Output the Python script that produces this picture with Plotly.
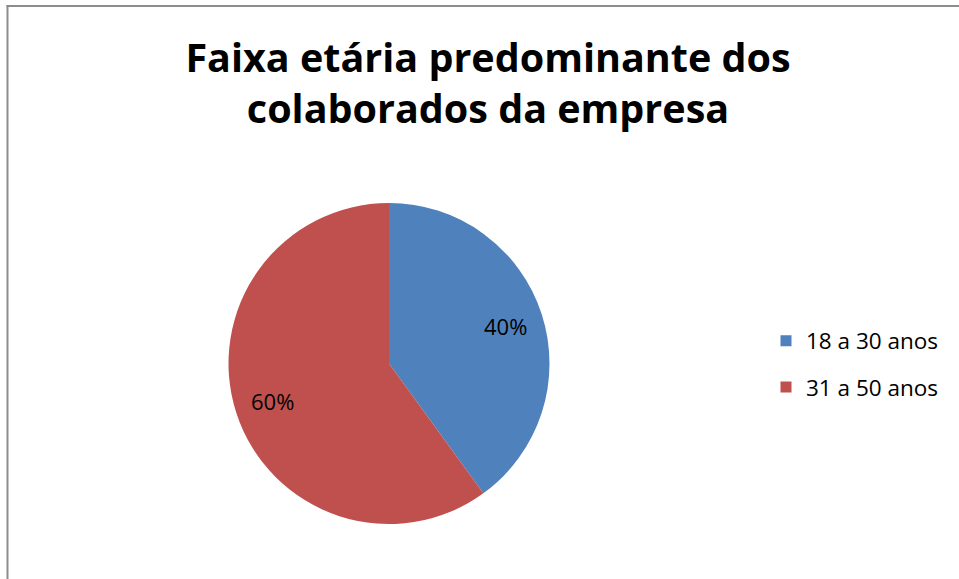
import math
import plotly.graph_objects as go

title_lines = ["Faixa etária predominante dos", "colaborados da empresa"]
labels = ["18 a 30 anos", "31 a 50 anos"]
values = [40, 60]
colors = ["#4F81BD", "#C0504D"]

W, H = 959, 579
# pie placement (pixels)
PX0, PX1, PY0, PY1 = 228, 550, 203, 524
CX, CY = (PX0 + PX1) / 2, (PY0 + PY1) / 2
R = (PX1 - PX0) / 2
LABEL_R = 0.76

fig = go.Figure()
fig.add_trace(go.Pie(
    labels=labels,
    values=values,
    sort=False,
    direction="clockwise",
    rotation=0,
    marker=dict(colors=colors, line=dict(width=0)),
    textinfo="none",
    showlegend=False,
    domain=dict(x=[PX0 / W, PX1 / W], y=[1 - PY1 / H, 1 - PY0 / H]),
    hoverinfo="label+percent",
))

# legend entries
for lab, col in zip(labels, colors):
    fig.add_trace(go.Scatter(
        x=[None], y=[None], mode="markers", name=lab, legendgroup=lab,
        marker=dict(symbol="square", size=11, color=col),
        showlegend=True,
    ))

# percentage labels placed at mid-angle of each slice
total = sum(values)
annotations = []
start = 0.0
for v in values:
    frac = v / total
    mid = (start + frac / 2) * 2 * math.pi
    start += frac
    px = CX + LABEL_R * R * math.sin(mid)
    py = CY - LABEL_R * R * math.cos(mid)
    annotations.append(dict(
        x=px / W, y=1 - py / H, xref="paper", yref="paper",
        text=f"{round(frac * 100)}%", showarrow=False,
        font=dict(family="Open Sans", size=22, color="#000000"),
        xanchor="center", yanchor="middle",
    ))

fig.update_layout(
    width=W, height=H,
    margin=dict(l=0, r=0, t=0, b=0),
    paper_bgcolor="#ffffff",
    plot_bgcolor="#ffffff",
    font=dict(family="Open Sans", color="#000000"),
    xaxis=dict(visible=False),
    yaxis=dict(visible=False),
    title=dict(
        text="<b>" + "<br>".join(title_lines) + "</b>",
        x=488 / W, xanchor="center",
        y=1 - 72 / H, yanchor="top", yref="container",
        font=dict(family="Open Sans", size=39.5, color="#000000"),
    ),
    legend=dict(
        x=766 / W, xanchor="left",
        y=1 - 364 / H, yanchor="middle",
        font=dict(family="Open Sans", size=22.5, color="#000000"),
        itemsizing="trace",
        tracegroupgap=14,
        bgcolor="rgba(0,0,0,0)",
    ),
    annotations=annotations,
    shapes=[
        dict(type="line", xref="paper", yref="paper",
             x0=7.5 / W, x1=7.5 / W, y0=0, y1=1 - 5 / H,
             line=dict(color="#8c8c8c", width=2)),
        dict(type="line", xref="paper", yref="paper",
             x0=6.5 / W, x1=1, y0=1 - 6 / H, y1=1 - 6 / H,
             line=dict(color="#8c8c8c", width=2)),
    ],
)

fig.write_html("out.html")
